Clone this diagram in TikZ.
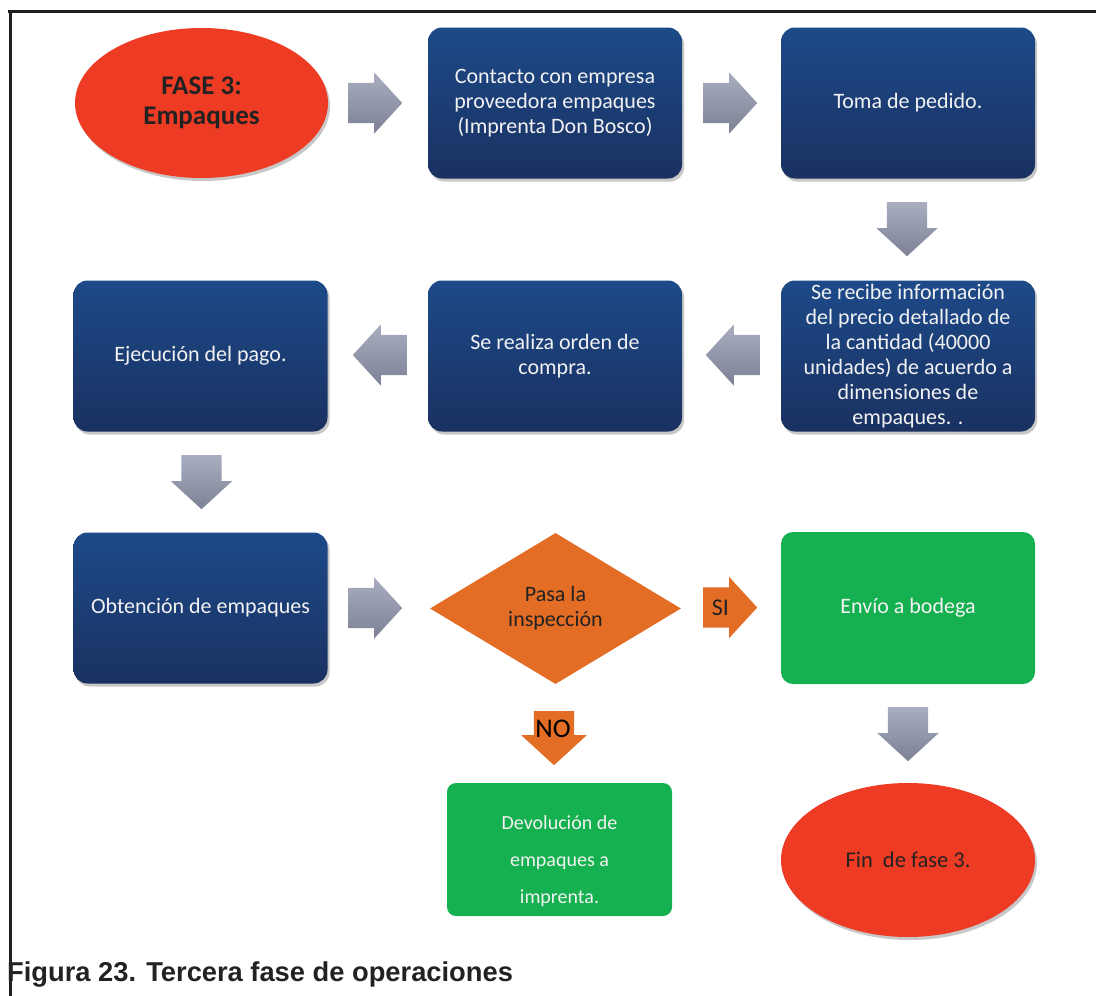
\documentclass[tikz,border=0pt]{standalone}
\usepackage{fontspec}
\setmainfont{Carlito}
\newfontfamily\capfont{Liberation Sans}
\usetikzlibrary{shapes.geometric,shapes.arrows,shadows}

\definecolor{boxtop}{HTML}{1D4A89}
\definecolor{boxbot}{HTML}{1A3161}
\definecolor{boxtext}{HTML}{F2F2F2}
\definecolor{ovalred}{HTML}{EE3B24}
\definecolor{decorange}{HTML}{E46D25}
\definecolor{okgreen}{HTML}{15B04F}
\definecolor{darktext}{HTML}{222222}
\definecolor{arrlight}{HTML}{A9ADC0}
\definecolor{arrdark}{HTML}{7C8195}
\definecolor{frameline}{HTML}{1E1E1E}

\begin{document}
\begin{tikzpicture}[x=1pt,y=-1pt,
  softshadow/.style={drop shadow={shadow xshift=2pt,shadow yshift=-3pt,opacity=0.22,fill=black}},
  bodytext/.style={font=\fontsize{22}{25}\selectfont, align=center},
  bluebox/.style={rectangle, rounded corners=14pt, minimum width=254pt, minimum height=151pt,
    inner sep=0pt, top color=boxtop, bottom color=boxbot, text=boxtext, bodytext, softshadow},
  greenbox/.style={rectangle, rounded corners=12pt, fill=okgreen, text=boxtext, inner sep=0pt,
    bodytext},
  oval/.style={ellipse, fill=ovalred, text=darktext, inner sep=0pt, softshadow},
  % block arrows: the shaft width comes from the separation across the arrow
  blockarrow/.style={single arrow, single arrow head extend=10.5pt, single arrow tip angle=95,
    minimum height=54pt, anchor=tail},
  across/.style={inner xsep=0pt, inner ysep=20pt},
  rightarr/.style={across},
  leftarr/.style={across, shape border rotate=180},
  downarr/.style={inner xsep=20pt, inner ysep=0pt, shape border rotate=270},
  grayarrow/.style={blockarrow, top color=arrlight, bottom color=arrdark},
  orangearrow/.style={blockarrow, fill=decorange},
]
\useasboundingbox (0,0) rectangle (1096,996);

% frame: top rule and left rule
\draw[frameline, line width=3pt] (8,11) -- (1096,11);
\draw[frameline, line width=3pt] (10,11) -- (10,996);

% row 1
\node[oval, minimum width=253pt, minimum height=150pt,
      font=\fontsize{27}{30}\selectfont\bfseries, align=center] (fase) at (201.5,103) {FASE 3:\\Empaques};
\node[bluebox] (contacto) at (555,103) {Contacto con empresa\\proveedora empaques\\(Imprenta Don Bosco)};
\node[bluebox] (pedido) at (908,103) {Toma de pedido.};

% row 2
\node[bluebox] (info) at (908,356) {Se recibe información\\del precio detallado de\\la cantidad (40000\\unidades) de acuerdo a\\dimensiones de\\empaques. .};
\node[bluebox] (orden) at (555,356) {Se realiza orden de\\compra.};
\node[bluebox] (pago) at (200.5,356) {Ejecución del pago.};

% row 3
\node[bluebox] (obtencion) at (200.5,608) {Obtención de empaques};
\node[diamond, fill=decorange, minimum width=251pt, minimum height=151pt, inner sep=0pt,
      text=darktext, bodytext] (insp) at (555.5,608.5) {Pasa la\\inspección};
\node[greenbox, minimum width=254pt, minimum height=152pt] (envio) at (908,608) {Envío a bodega};

% row 4
\node[greenbox, rounded corners=9pt, minimum width=225pt, minimum height=133pt,
      font=\fontsize{20}{37}\selectfont, text height=112pt] (devol) at (559.5,849.5) {Devolución de\\empaques a\\imprenta.};
\node[oval, minimum width=254pt, minimum height=154pt, font=\fontsize{22.5}{25}\selectfont] (fin) at (908,860) {Fin\ \ de fase 3.};

% block arrows between the steps (placed by their tails)
\node[grayarrow, rightarr] (a1) at (348,103) {};
\node[grayarrow, rightarr] (a2) at (703,103) {};
\node[grayarrow, downarr]  (a3) at (907,202) {};
\node[grayarrow, leftarr]  (a4) at (407,355) {};
\node[grayarrow, leftarr]  (a5) at (760,355) {};
\node[grayarrow, downarr]  (a6) at (201.5,455) {};
\node[grayarrow, rightarr] (a7) at (348,608) {};
\node[grayarrow, downarr]  (a8) at (908,707) {};

% decision outcomes
\node[orangearrow, rightarr] (si) at (703,607.5) {};
\node[font=\fontsize{24}{24}\selectfont, text=darktext] (silbl) at (720.5,607.5) {SI};
\node[orangearrow, downarr, single arrow head extend=12.5pt] (no) at (554,711) {};
\node[font=\fontsize{27}{27}\selectfont, text=black] (nolbl) at (553,729) {NO};

% caption
\node[anchor=base west, inner sep=0pt, font=\capfont\bfseries\fontsize{27.3}{28}\selectfont,
      text=darktext] (caption) at (7,981) {Figura 23. Tercera fase de operaciones};
\end{tikzpicture}
\end{document}
